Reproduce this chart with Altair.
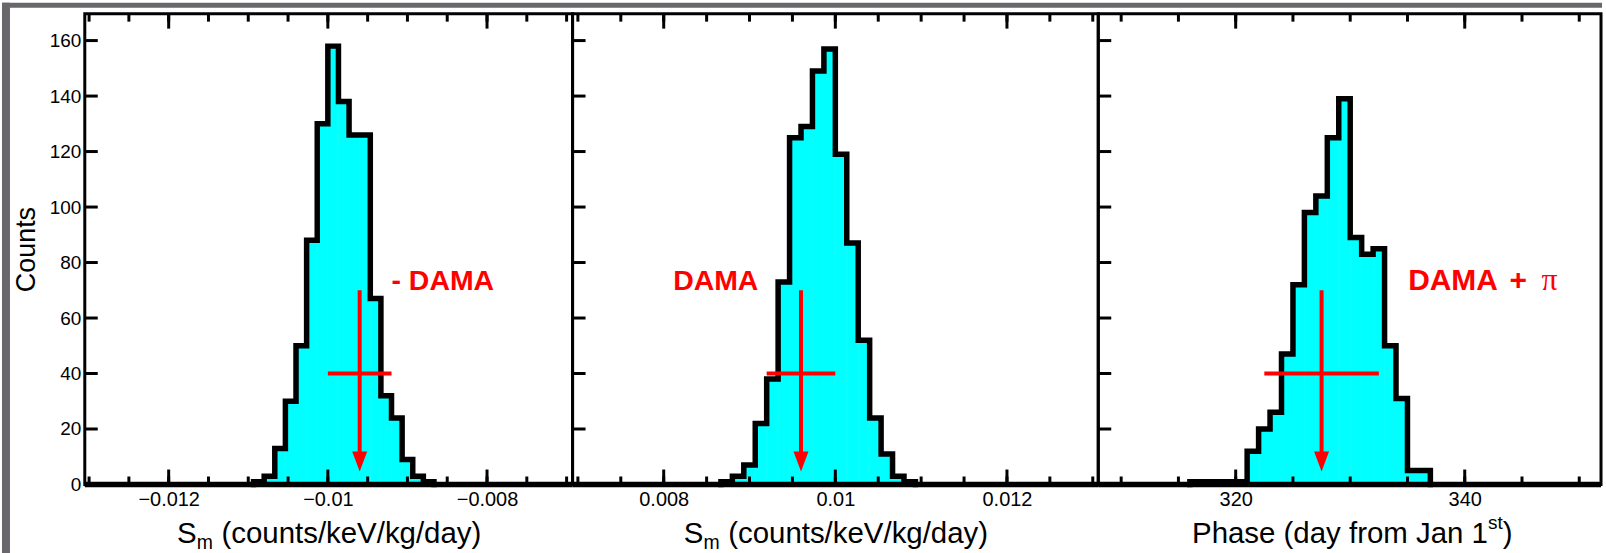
import altair as alt
import pandas as pd

# ---------------- data ----------------
# Panel 1 : S_m for "- DAMA"
p1_edges = [-0.0109333, -0.0108, -0.0106667, -0.0105333, -0.0104, -0.0102667,
            -0.0101333, -0.0100, -0.0098667, -0.0097333, -0.0096, -0.0094667,
            -0.0093333, -0.0092, -0.0090667, -0.0089333, -0.0088, -0.0086667]
p1_counts = [1, 3, 13, 30, 50, 88, 130, 158, 138, 126, 126, 67, 32, 24, 9, 3, 1]

# Panel 2 : S_m for "DAMA"
p2_edges = [0.0086667, 0.0088, 0.0089333, 0.0090667, 0.0092, 0.0093333, 0.0094667,
            0.0096, 0.0097333, 0.0098667, 0.0100, 0.0101333, 0.0102667, 0.0104,
            0.0105333, 0.0106667, 0.0108, 0.0109333]
p2_counts = [1, 3, 7, 22, 38, 73, 125, 129, 149, 157, 119, 87, 52, 24, 11, 3, 1]

# Panel 3 : phase for "DAMA + pi"
p3_edges = [316, 317, 318, 319, 320, 321, 322, 323, 324, 325, 326, 327, 328,
            329, 330, 331, 332, 333, 334, 335, 336, 337]
p3_counts = [1, 1, 1, 1, 1, 12, 20, 26, 47, 72, 98, 104, 125, 139, 89, 83, 85,
             50, 31, 5, 5]

x_domains = [[-0.013054, -0.006925], [0.006938, 0.013064], [308.0, 351.9]]
x_major = [[-0.012, -0.010, -0.008], [0.008, 0.010, 0.012], [320, 340]]
x_formats = [".6~g", ".6~g", "d"]
x_ticks = [
    [-0.013, -0.0125, -0.012, -0.0115, -0.011, -0.0105, -0.010, -0.0095,
     -0.009, -0.0085, -0.008, -0.0075, -0.007],
    [0.007, 0.0075, 0.008, 0.0085, 0.009, 0.0095, 0.010, 0.0105, 0.011,
     0.0115, 0.012, 0.0125, 0.013],
    [310, 315, 320, 325, 330, 335, 340, 345, 350],
]
y_ticks = [0, 20, 40, 60, 80, 100, 120, 140, 160]
y_max = 169.7

# red cross + arrow markers
marker_x = [-0.0096, 0.0096, 327.5]
marker_half = [0.0004, 0.0004, 5.0]
marker_y = 40
arrow_top = 70
arrow_end = 10
arrow_head = 8.3

# red labels
label_text = ["- DAMA", "DAMA", "DAMA"]
label_x = [-0.0092, 0.00811, 335.06]
label_size = [28.5, 28.5, 30]
label_y = 70
plus_x = 343.9
pi_x = 346.7

# ---------------- styling ----------------
FONT = "Liberation Sans"
CYAN = "#00ffff"
RED = "#ff0000"
GRAY = "#69676b"
W = [489, 527, 504]
H = 472
HEAD = "M-0.75,-1L0.75,-1L0,1Z"

one = pd.DataFrame({"k": [0]})


def text_layer(txt, px, py, size, font=FONT, weight="normal", color="black"):
    return alt.Chart(one).mark_text(
        text=txt, font=font, fontSize=size, fontWeight=weight, color=color,
        align="left", baseline="alphabetic"
    ).encode(x=alt.value(px), y=alt.value(py))


def panel(i, edges, counts, width):
    xs = alt.Scale(domain=x_domains[i], nice=False, zero=False)
    ys = alt.Scale(domain=[0, y_max], nice=False, zero=False)

    xaxis = alt.Axis(values=x_major[i], format=x_formats[i], labelFontSize=20,
                     labelPadding=5, ticks=False, tickSize=0, domain=False,
                     grid=False, labelColor="black", labelFont=FONT)
    if i == 0:
        yaxis = alt.Axis(values=y_ticks, format="d", labelFontSize=19,
                         labelPadding=4, ticks=False, tickSize=0, domain=False,
                         grid=False, title="Counts", titleFontSize=27,
                         titleFontWeight="normal", titlePadding=9,
                         labelColor="black", titleColor="black",
                         labelFont=FONT, titleFont=FONT)
    else:
        yaxis = None

    def X(f):
        return alt.X(f, scale=xs, axis=xaxis, title=None)

    def Y(f):
        if yaxis is None:
            return alt.Y(f, scale=ys, axis=None)
        return alt.Y(f, scale=ys, axis=yaxis, title="Counts")

    hist = pd.DataFrame({"lo": edges[:-1], "hi": edges[1:], "c": counts,
                         "z": [0] * len(counts)})
    pts_x = [edges[0]] + list(edges[:-1]) + [edges[-1]]
    pts_y = [0] + list(counts) + [0]
    outline = pd.DataFrame({"x": pts_x, "y": pts_y, "i": list(range(len(pts_x)))})

    layers = []
    if i == 0:
        layers.append(alt.Chart(one).mark_rect(color=GRAY).encode(
            x=alt.value(-83), x2=alt.value(1521), y=alt.value(-11), y2=alt.value(-6)))
        layers.append(alt.Chart(one).mark_rect(color=GRAY).encode(
            x=alt.value(-83), x2=alt.value(-75), y=alt.value(-11), y2=alt.value(541)))

    layers.append(alt.Chart(hist).mark_rect(color=CYAN, stroke=CYAN, strokeWidth=0.6).encode(
        x=X("lo:Q"), x2="hi:Q", y=Y("c:Q"), y2="z:Q"))

    # thick zero line
    layers.append(alt.Chart(pd.DataFrame({"z": [0]})).mark_rule(
        color="black", strokeWidth=5.5).encode(
        y=Y("z:Q"), x=alt.value(0), x2=alt.value(width)))

    # histogram outline
    layers.append(alt.Chart(outline).mark_line(
        color="black", strokeWidth=5.5, interpolate="step-after",
        strokeJoin="miter", strokeCap="square").encode(
        x=X("x:Q"), y=Y("y:Q"), order="i:Q"))

    # inward ticks
    tall = pd.DataFrame({"v": x_ticks[i]})
    tmaj = pd.DataFrame({"v": x_major[i]})
    for df, ln in ((tall, 8), (tmaj, 15)):
        layers.append(alt.Chart(df).mark_rule(color="black", strokeWidth=3).encode(
            x=X("v:Q"), y=alt.value(0), y2=alt.value(ln)))
        layers.append(alt.Chart(df).mark_rule(color="black", strokeWidth=3).encode(
            x=X("v:Q"), y=alt.value(H - ln), y2=alt.value(H)))
    layers.append(alt.Chart(pd.DataFrame({"v": y_ticks})).mark_rule(
        color="black", strokeWidth=3).encode(
        y=Y("v:Q"), x=alt.value(0), x2=alt.value(13)))

    # red cross with arrow
    mx, mh = marker_x[i], marker_half[i]
    layers.append(alt.Chart(pd.DataFrame({"lo": [mx - mh], "hi": [mx + mh], "y": [marker_y]}))
                  .mark_rule(color=RED, strokeWidth=4).encode(
        x=X("lo:Q"), x2="hi:Q", y=Y("y:Q")))
    layers.append(alt.Chart(pd.DataFrame({"x": [mx], "t": [arrow_top], "b": [arrow_end]}))
                  .mark_rule(color=RED, strokeWidth=4).encode(
        x=X("x:Q"), y=Y("t:Q"), y2="b:Q"))
    layers.append(alt.Chart(pd.DataFrame({"x": [mx], "y": [arrow_head]}))
                  .mark_point(shape=HEAD, size=400, filled=True, color=RED,
                              opacity=1, strokeWidth=0).encode(
        x=X("x:Q"), y=Y("y:Q")))

    # red labels
    lab = {"x": [label_x[i]], "y": [label_y], "t": [label_text[i]]}
    if i == 2:
        lab = {"x": [label_x[i], plus_x], "y": [label_y, label_y], "t": [label_text[i], "+"]}
    layers.append(alt.Chart(pd.DataFrame(lab))
                  .mark_text(font=FONT, fontSize=label_size[i], fontWeight="bold", color=RED,
                             align="left", baseline="alphabetic").encode(
        x=X("x:Q"), y=Y("y:Q"), text="t:N"))
    if i == 2:
        layers.append(alt.Chart(pd.DataFrame({"x": [pi_x], "y": [label_y], "t": ["π"]}))
                      .mark_text(font="Liberation Serif", fontSize=32, color=RED,
                                 align="left", baseline="alphabetic").encode(
            x=X("x:Q"), y=Y("y:Q"), text="t:N"))

    # axis titles (with sub/superscripts)
    if i < 2:
        s0 = width / 2 - 152
        layers.append(text_layer("S", s0, 530.7, 29.5))
        layers.append(text_layer("m", s0 + 19.7, 537, 19.5))
        layers.append(text_layer("(counts/keV/kg/day)", s0 + 44.5, 530.7, 29.5))
    else:
        s0 = width / 2 - 158
        layers.append(text_layer("Phase (day from Jan 1", s0, 530.7, 29.5))
        layers.append(text_layer("st", s0 + 296.8, 517, 19))
        layers.append(text_layer(")", s0 + 311.6, 530.7, 29.5))

    return alt.layer(*layers).properties(width=width, height=H)


p1 = panel(0, p1_edges, p1_counts, W[0])
p2 = panel(1, p2_edges, p2_counts, W[1])
p3 = panel(2, p3_edges, p3_counts, W[2])

chart = (
    alt.hconcat(p1, p2, p3, spacing=0, bounds="flush")
    .properties(padding=0, background="white")
    .configure_view(stroke="black", strokeWidth=3)
    .configure_axis(labelFont=FONT, titleFont=FONT)
)

chart.save("out.html", embed_options={"renderer": "svg", "actions": False})
